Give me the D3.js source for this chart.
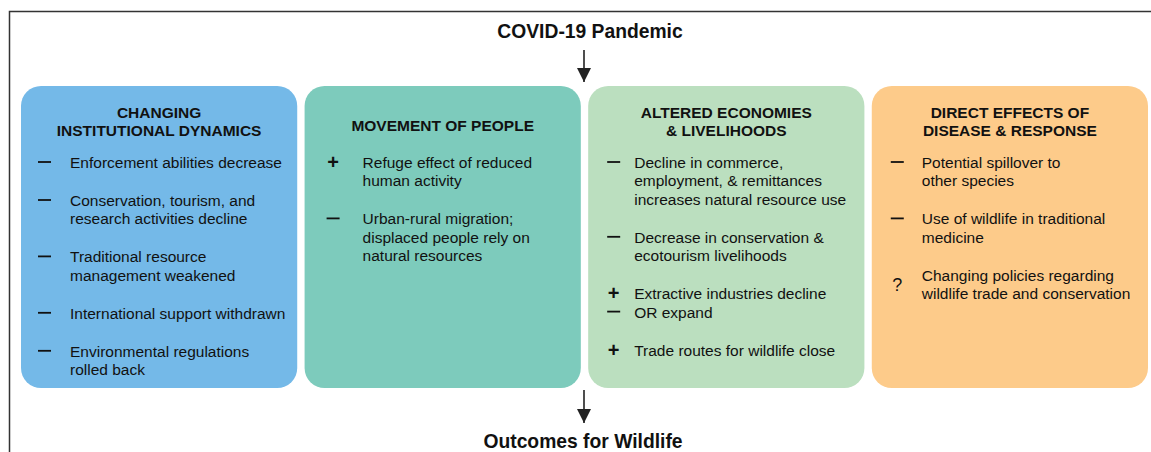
<html>
<head>
    <script src="https://cdn.jsdelivr.net/npm/d3@7"></script>
    <style>
        body { margin: 0; background: white; font-family: "Liberation Sans", Arial, sans-serif; }
        svg { display: block; }
    </style>
</head>
<body>
<svg id="chart"></svg>
<script>
    // panel titles, colours and their bullet items
    const panelTitles = [
        ["CHANGING", "INSTITUTIONAL DYNAMICS"],
        ["MOVEMENT OF PEOPLE"],
        ["ALTERED ECONOMIES", "& LIVELIHOODS"],
        ["DIRECT EFFECTS OF", "DISEASE & RESPONSE"]
    ];
    const panelColors = ["#74b9e8", "#7dcbbc", "#bbdfbf", "#fdcb8a"];
    const panelItems = [
        [
            {sign: "-", lines: ["Enforcement abilities decrease"]},
            {sign: "-", lines: ["Conservation, tourism, and", "research activities decline"]},
            {sign: "-", lines: ["Traditional resource", "management weakened"]},
            {sign: "-", lines: ["International support withdrawn"]},
            {sign: "-", lines: ["Environmental regulations", "rolled back"]}
        ],
        [
            {sign: "+", lines: ["Refuge effect of reduced", "human activity"]},
            {sign: "-", lines: ["Urban-rural migration;", "displaced people rely on", "natural resources"]}
        ],
        [
            {sign: "-", lines: ["Decline in commerce,", "employment, & remittances", "increases natural resource use"]},
            {sign: "-", lines: ["Decrease in conservation &", "ecotourism livelihoods"]},
            {sign: "+", lines: ["Extractive industries decline"], gap: false},
            {sign: "-", lines: ["OR expand"]},
            {sign: "+", lines: ["Trade routes for wildlife close"]}
        ],
        [
            {sign: "-", lines: ["Potential spillover to", "other species"]},
            {sign: "-", lines: ["Use of wildlife in traditional", "medicine"]},
            {sign: "?", lines: ["Changing policies regarding", "wildlife trade and conservation"]}
        ]
    ];
    const topLabel = "COVID-19 Pandemic";
    const bottomLabel = "Outcomes for Wildlife";

    const width = 1151, height = 452;
    const svg = d3.select("#chart").attr("width", width).attr("height", height);

    // outer frame (runs off the right and bottom edge)
    svg.append("path")
        .attr("d", "M9.5,460 V11.5 H1160")
        .attr("fill", "none")
        .attr("stroke", "#333")
        .attr("stroke-width", 1.5);

    const x = d3.scaleBand().domain(d3.range(4)).range([21, 1148]).paddingInner(0.026);
    const boxTop = 86, boxBottom = 388;
    const lineH = 18.4, itemGap = 19.6;

    svg.append("defs").append("marker")
        .attr("id", "arrow")
        .attr("viewBox", "0 0 10 10")
        .attr("refX", 10).attr("refY", 5)
        .attr("markerWidth", 14).attr("markerHeight", 14)
        .attr("markerUnits", "userSpaceOnUse")
        .attr("orient", "auto")
        .append("path").attr("d", "M0,0 L10,5 L0,10 Z").attr("fill", "#222");

    const cx = 584;
    svg.append("text").attr("x", 590).attr("y", 38)
        .attr("text-anchor", "middle").attr("font-weight", "bold")
        .attr("font-size", 19.3).attr("fill", "#111").text(topLabel);
    svg.append("text").attr("x", 583).attr("y", 448)
        .attr("text-anchor", "middle").attr("font-weight", "bold")
        .attr("font-size", 19.3).attr("fill", "#111").text(bottomLabel);

    [[50, 82], [390, 423]].forEach(a => {
        svg.append("line").attr("x1", cx).attr("x2", cx)
            .attr("y1", a[0]).attr("y2", a[1])
            .attr("stroke", "#222").attr("stroke-width", 1.6)
            .attr("marker-end", "url(#arrow)");
    });

    const bulletOff = [17, 22, 19, 19];
    const textOff = [49, 58, 46, 50];

    const panels = svg.selectAll("g.panel").data(panelTitles).enter()
        .append("g").attr("class", "panel")
        .attr("transform", (d, i) => "translate(" + x(i) + ",0)");

    panels.append("rect")
        .attr("y", boxTop).attr("width", x.bandwidth()).attr("height", boxBottom - boxTop)
        .attr("rx", 20).attr("ry", 20)
        .attr("fill", (d, i) => panelColors[i]);

    panels.each(function (title, i) {
        const g = d3.select(this);
        const ty = title.length === 1 ? 131 : 118;
        g.selectAll("text.head").data(title).enter().append("text")
            .attr("class", "head")
            .attr("x", x.bandwidth() / 2)
            .attr("y", (d, k) => ty + k * 18)
            .attr("text-anchor", "middle").attr("font-weight", "bold")
            .attr("font-size", 15.5).attr("fill", "#111")
            .text(d => d);

        let y = 168;
        panelItems[i].forEach(item => {
            const mid = y + (item.lines.length > 1 && item.sign === "?" ? lineH / 2 : 0);
            if (item.sign === "-") {
                g.append("line")
                    .attr("x1", bulletOff[i]).attr("x2", bulletOff[i] + 13)
                    .attr("y1", y - 6).attr("y2", y - 6)
                    .attr("stroke", "#111").attr("stroke-width", 1.8);
            } else {
                g.append("text")
                    .attr("x", bulletOff[i] + 6.5).attr("y", mid + 1)
                    .attr("text-anchor", "middle")
                    .attr("font-weight", item.sign === "+" ? "bold" : "normal")
                    .attr("font-size", item.sign === "?" ? 18 : 20).attr("fill", "#111")
                    .text(item.sign);
            }
            item.lines.forEach((l, k) => {
                g.append("text")
                    .attr("x", textOff[i]).attr("y", y + k * lineH)
                    .attr("font-size", 15.5).attr("fill", "#111")
                    .text(l);
            });
            y += (item.lines.length - 1) * lineH + (item.gap === false ? lineH : lineH + itemGap);
        });
    });
</script>
</body>
</html>
